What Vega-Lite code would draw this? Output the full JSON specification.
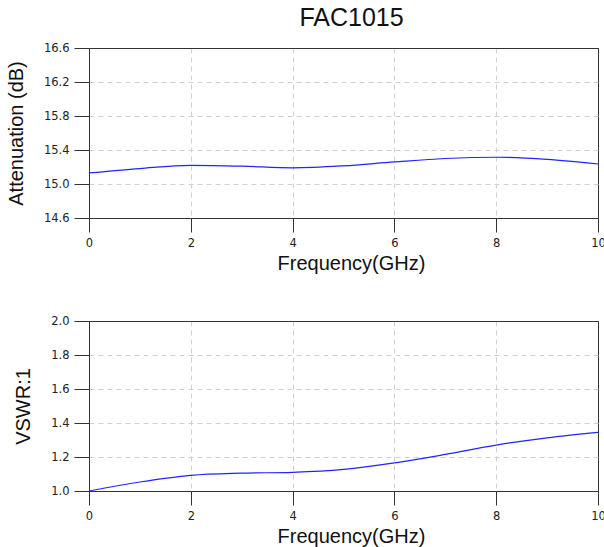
{
  "$schema": "https://vega.github.io/schema/vega-lite/v6.json",
  "padding": {"left": 5, "top": 5, "right": 0, "bottom": 0},
  "background": "white",
  "datasets": {
    "att": [
      {"f": 0, "v": 15.13}, {"f": 1, "v": 15.182}, {"f": 2, "v": 15.22}, {"f": 3, "v": 15.21},
      {"f": 4, "v": 15.19}, {"f": 5, "v": 15.214}, {"f": 6, "v": 15.26}, {"f": 7, "v": 15.30},
      {"f": 8, "v": 15.315}, {"f": 9, "v": 15.29}, {"f": 10, "v": 15.235}
    ],
    "vswr": [
      {"f": 0, "v": 1.0}, {"f": 1, "v": 1.053}, {"f": 2, "v": 1.092}, {"f": 3, "v": 1.105},
      {"f": 4, "v": 1.11}, {"f": 5, "v": 1.127}, {"f": 6, "v": 1.165}, {"f": 7, "v": 1.215},
      {"f": 8, "v": 1.27}, {"f": 9, "v": 1.313}, {"f": 10, "v": 1.345}
    ]
  },
  "config": {
    "font": "Liberation Sans",
    "view": {"stroke": "#333", "strokeWidth": 1},
    "axis": {
      "grid": true, "gridWidth": 1,
      "domainColor": "#333", "tickColor": "#333",
      "labelFont": "DejaVu Sans", "labelFontSize": 11.5, "labelColor": "#222",
      "titleFont": "Liberation Sans", "titleFontSize": 20, "titleFontWeight": "normal", "titleColor": "#111",
      "labelFlush": false
    },
    "axisX": {"tickSize": 14, "labelPadding": 5, "titlePadding": 5, "titleX": 262},
    "axisY": {"tickSize": 15, "labelPadding": 5, "titlePadding": 17}
  },
  "spacing": 40,
  "vconcat": [
    {
      "width": 509, "height": 170,
      "title": {"text": "FAC1015", "fontSize": 25, "fontWeight": "normal", "font": "Liberation Sans", "color": "#111", "frame": "group", "dx": 8, "offset": 11},
      "data": {"name": "att"},
      "mark": {"type": "line", "color": "#2323ff", "strokeWidth": 1.2, "interpolate": "monotone"},
      "encoding": {
        "x": {"field": "f", "type": "quantitative", "scale": {"domain": [0, 10], "nice": false},
              "axis": {"values": [0, 2, 4, 6, 8, 10], "title": "Frequency(GHz)",
                       "gridColor": {"condition": {"test": "datum.value >= 10", "value": "#333"}, "value": "#d0d0d0"},
                       "gridDash": {"condition": {"test": "datum.value >= 10", "value": []}, "value": [5, 4]}}},
        "y": {"field": "v", "type": "quantitative", "scale": {"domain": [14.6, 16.6], "nice": false, "zero": false},
              "axis": {"values": [14.6, 15.0, 15.4, 15.8, 16.2, 16.6], "format": ".1f", "title": "Attenuation (dB)",
                       "gridColor": {"condition": {"test": "datum.value >= 16.59", "value": "#333"}, "value": "#d0d0d0"},
                       "gridDash": {"condition": {"test": "datum.value >= 16.59", "value": []}, "value": [5, 4]}}}
      }
    },
    {
      "width": 509, "height": 170,
      "data": {"name": "vswr"},
      "mark": {"type": "line", "color": "#2323ff", "strokeWidth": 1.2, "interpolate": "monotone"},
      "encoding": {
        "x": {"field": "f", "type": "quantitative", "scale": {"domain": [0, 10], "nice": false},
              "axis": {"values": [0, 2, 4, 6, 8, 10], "title": "Frequency(GHz)",
                       "gridColor": {"condition": {"test": "datum.value >= 10", "value": "#333"}, "value": "#d0d0d0"},
                       "gridDash": {"condition": {"test": "datum.value >= 10", "value": []}, "value": [5, 4]}}},
        "y": {"field": "v", "type": "quantitative", "scale": {"domain": [1.0, 2.0], "nice": false, "zero": false},
              "axis": {"values": [1.0, 1.2, 1.4, 1.6, 1.8, 2.0], "format": ".1f", "title": "VSWR:1",
                       "gridColor": {"condition": {"test": "datum.value >= 1.99", "value": "#333"}, "value": "#d0d0d0"},
                       "gridDash": {"condition": {"test": "datum.value >= 1.99", "value": []}, "value": [5, 4]}}}
      }
    }
  ]
}
